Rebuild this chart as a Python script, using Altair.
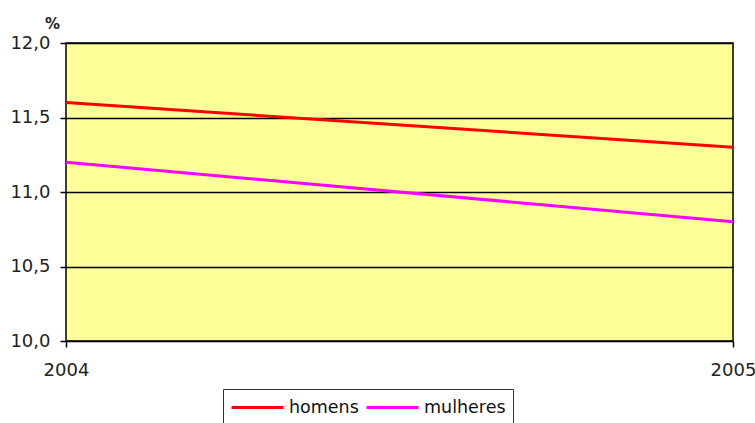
import altair as alt
import pandas as pd

years = [2004, 2005]
homens = [11.6, 11.3]
mulheres = [11.2, 10.8]
series_names = ["homens", "mulheres"]
series_colors = ["#FF0000", "#FF00FF"]
y_ticks = [10.0, 10.5, 11.0, 11.5, 12.0]

rows = []
for name, vals in zip(series_names, [homens, mulheres]):
    for yr, v in zip(years, vals):
        rows.append({"ano": yr, "valor": v, "serie": name})
df = pd.DataFrame(rows)

FONT = "DejaVu Sans"

chart = alt.Chart(df).mark_line(strokeWidth=3).encode(
    x=alt.X("ano:Q",
            scale=alt.Scale(domain=[2004, 2005], nice=False, zero=False),
            axis=alt.Axis(values=years, format="d", title=None, grid=False,
                          domain=False, tickSize=6, tickColor="black",
                          tickWidth=1.5, labelPadding=14, labelFontSize=18,
                          labelFont=FONT, labelColor="#222",
                          labelFlush=False)),
    y=alt.Y("valor:Q",
            scale=alt.Scale(domain=[10, 12], nice=False, zero=False),
            axis=alt.Axis(values=y_ticks, title="%",
                          labelExpr="replace(format(datum.value, '.1f'), '.', ',')",
                          grid=True, gridColor="black", gridWidth=1.5,
                          domain=False, tickSize=6, tickColor="black",
                          tickWidth=1.5, labelPadding=10, labelFontSize=18,
                          labelFont=FONT, labelColor="#222",
                          titleAngle=0, titleX=-14, titleY=-20,
                          titleAlign="center", titleBaseline="middle",
                          titleFont=FONT, titleFontSize=15,
                          titleFontWeight="bold", titleColor="#222")),
    color=alt.Color("serie:N",
                    scale=alt.Scale(domain=series_names, range=series_colors),
                    legend=alt.Legend(title=None, orient="none",
                                      direction="horizontal",
                                      legendX=157, legendY=346,
                                      strokeColor="#333", fillColor="white",
                                      padding=7,
                                      symbolType="M-1,0L4.2,0",
                                      symbolSize=400, symbolStrokeWidth=3,
                                      labelFont=FONT, labelFontSize=17.5,
                                      labelColor="#111", labelOffset=36,
                                      columnPadding=1)),
).properties(
    width=667,
    height=298,
    autosize=alt.AutoSizeParams(type="none"),
    padding={"left": 66, "top": 43, "right": 22, "bottom": 82},
).configure_view(
    fill="#FFFF99",
    stroke="black",
    strokeWidth=1.5,
)

chart.save("out.html", embed_options={"renderer": "svg", "actions": False})
